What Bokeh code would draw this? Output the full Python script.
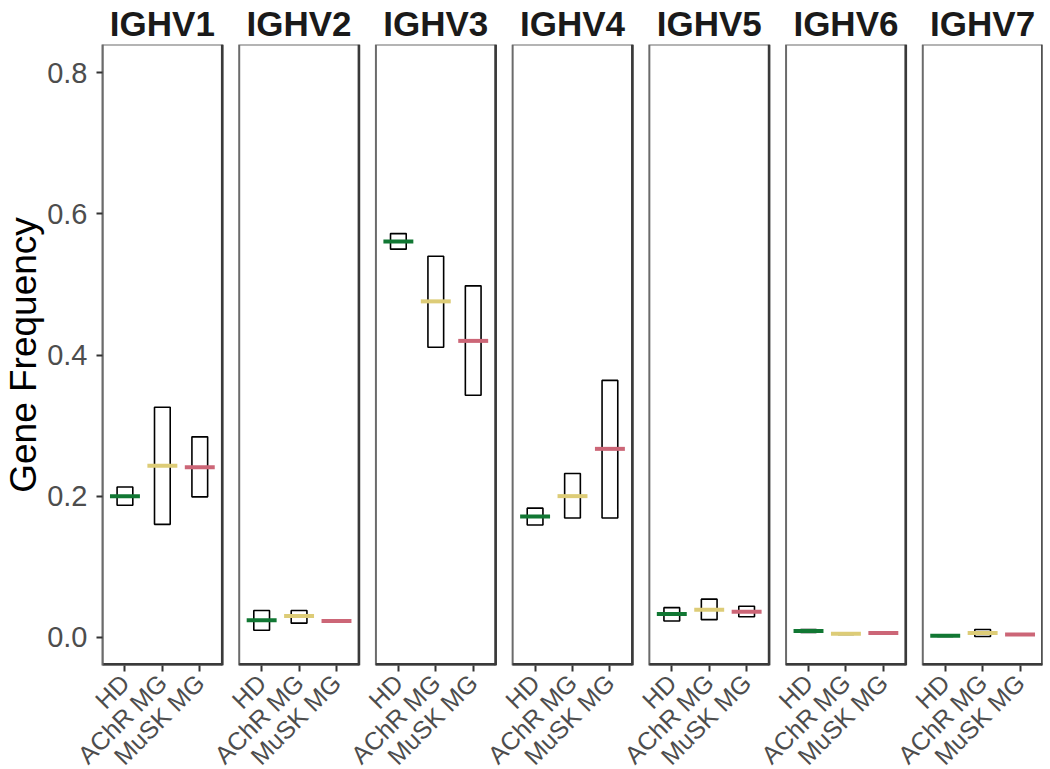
import math
from bokeh.plotting import figure
from bokeh.models import (Range1d, FactorRange, FixedTicker, ColumnDataSource,
                          NumeralTickFormatter, CategoricalAxis)
from bokeh.transform import dodge
from bokeh.embed import file_html
from bokeh.resources import INLINE

genes = ["IGHV1", "IGHV2", "IGHV3", "IGHV4", "IGHV5", "IGHV6", "IGHV7"]
groups = ["HD", "AChR MG", "MuSK MG"]
colors = ["#117733", "#DDCC77", "#CC6677"]
y_ticks = [0.0, 0.2, 0.4, 0.6, 0.8]

hd_med = [0.200, 0.024, 0.561, 0.171, 0.033, 0.009, 0.002]
hd_lo = [0.187, 0.010, 0.550, 0.159, 0.023, 0.007, 0.001]
hd_hi = [0.213, 0.038, 0.572, 0.183, 0.042, 0.011, 0.003]
achr_med = [0.243, 0.030, 0.476, 0.200, 0.039, 0.005, 0.006]
achr_lo = [0.160, 0.020, 0.411, 0.169, 0.025, 0.004, 0.001]
achr_hi = [0.326, 0.038, 0.540, 0.232, 0.054, 0.006, 0.011]
musk_med = [0.241, 0.023, 0.420, 0.267, 0.036, 0.006, 0.004]
musk_lo = [0.199, 0.022, 0.343, 0.169, 0.029, 0.005, 0.003]
musk_hi = [0.284, 0.024, 0.498, 0.364, 0.044, 0.007, 0.005]

FONT = "Liberation Sans"
Y0, Y1 = -0.04, 0.84

# long-format table built from the arrays above
xs, meds, los, his, cols = [], [], [], [], []
per_group = [(hd_med, hd_lo, hd_hi), (achr_med, achr_lo, achr_hi), (musk_med, musk_lo, musk_hi)]
for i, g in enumerate(genes):
    for j, c in enumerate(groups):
        m, lo, hi = per_group[j]
        xs.append((g, c))
        meds.append(m[i])
        los.append(lo[i])
        his.append(hi[i])
        cols.append(colors[j])
src = ColumnDataSource(dict(x=xs, med=meds, lo=los, hi=his, color=cols))

factors = [(g, c) for g in genes for c in groups]
n_syn = len(genes) * len(groups) + (len(genes) - 1) * 0.654
xr = FactorRange(*factors, group_padding=0.654, factor_padding=0.0,
                 range_padding=0.2 / n_syn, range_padding_units="percent")

p = figure(
    x_range=xr, y_range=Range1d(Y0, Y1),
    frame_width=940, frame_height=621,
    output_backend="svg", toolbar_location=None,
    min_border_left=99, min_border_right=3, min_border_top=0, min_border_bottom=0,
    background_fill_color="white", border_fill_color="white",
)
p.outline_line_color = None
p.xgrid.grid_line_color = None
p.ygrid.grid_line_color = None

# panel frames
panel_src = ColumnDataSource(dict(gene=genes))
half = len(groups) / 2 + 0.1
p.rect(x="gene", y=(Y0 + Y1) / 2, width=2 * half, height=(Y1 - Y0), source=panel_src,
       fill_color=None, line_color="#6b6b6b", line_width=2)
p.segment(x0=dodge("gene", half, range=xr), y0=Y0, x1=dodge("gene", half, range=xr), y1=Y1,
          source=panel_src, line_color="#3a3a3a", line_width=2.6)
p.segment(x0=dodge("gene", -half, range=xr), y0=Y0, x1=dodge("gene", half, range=xr), y1=Y0,
          source=panel_src, line_color="#3a3a3a", line_width=5)

# crossbars
p.vbar(x="x", bottom="lo", top="hi", width=0.42, source=src,
       fill_color=None, line_color="black", line_width=1.6)
p.rect(x="x", y="med", width=0.8, height=4, height_units="screen",
       source=src, fill_color="color", line_color=None)

xa = p.xaxis[0]
xa.major_label_orientation = math.pi / 4
xa.major_label_text_font = FONT
xa.major_label_text_font_size = "25px"
xa.major_label_text_color = "#4d4d4d"
xa.major_label_standoff = 7
xa.major_tick_in = 0
xa.major_tick_out = 6
xa.major_tick_line_width = 2
xa.major_tick_line_color = "#333333"
xa.axis_line_color = None
xa.separator_line_color = None
xa.group_text_font_size = "1px"
xa.group_text_color = None

top = CategoricalAxis()
top.major_tick_line_color = None
top.minor_tick_line_color = None
top.axis_line_color = None
top.separator_line_color = None
top.major_label_text_font_size = "1px"
top.major_label_text_color = None
top.major_label_standoff = -4
top.group_text_font = FONT
top.group_text_font_size = "35px"
top.group_text_font_style = "bold"
top.group_text_color = "#1a1a1a"
p.add_layout(top, "above")

ya = p.yaxis[0]
ya.ticker = FixedTicker(ticks=y_ticks)
ya.formatter = NumeralTickFormatter(format="0.0")
ya.minor_tick_line_color = None
ya.major_tick_in = 0
ya.major_tick_out = 6
ya.major_tick_line_width = 2
ya.major_tick_line_color = "#333333"
ya.axis_line_color = "#6b6b6b"
ya.axis_line_width = 2
ya.major_label_text_font = FONT
ya.major_label_text_font_size = "29px"
ya.major_label_text_color = "#4d4d4d"
ya.major_label_standoff = 9
ya.axis_label = "Gene Frequency"
ya.axis_label_text_font = FONT
ya.axis_label_text_font_size = "37px"
ya.axis_label_text_font_style = "normal"
ya.axis_label_text_color = "black"
ya.axis_label_standoff = 0

open("out.html", "w").write(file_html(p, INLINE))
